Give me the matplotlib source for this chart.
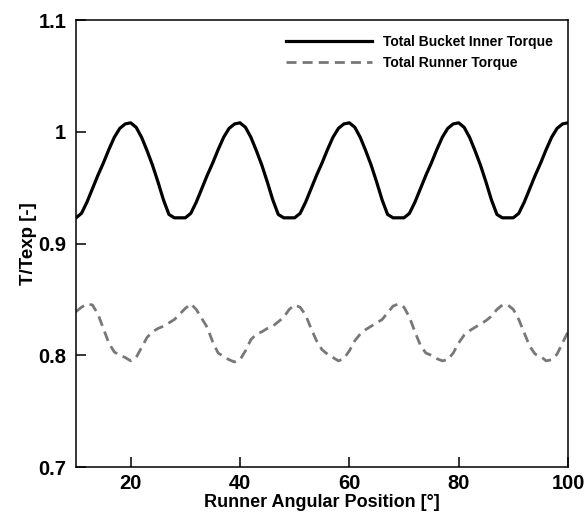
import matplotlib
matplotlib.use('Agg')
from matplotlib import pyplot as plt

# runner angular position [deg]
angle = list(range(10, 101))

# total bucket inner torque, T/Texp
bucket_torque = [
  0.923, 0.927, 0.937, 0.949, 0.961, 0.972, 0.984, 0.995, 1.003, 1.007,
  1.008, 1.004, 0.995, 0.983, 0.970, 0.955, 0.939, 0.926, 0.923, 0.923,
  0.923, 0.927, 0.937, 0.949, 0.961, 0.972, 0.984, 0.995, 1.003, 1.007,
  1.008, 1.004, 0.995, 0.983, 0.970, 0.955, 0.939, 0.926, 0.923, 0.923,
  0.923, 0.927, 0.937, 0.949, 0.961, 0.972, 0.984, 0.995, 1.003, 1.007,
  1.008, 1.004, 0.995, 0.983, 0.970, 0.955, 0.939, 0.926, 0.923, 0.923,
  0.923, 0.927, 0.937, 0.949, 0.961, 0.972, 0.984, 0.995, 1.003, 1.007,
  1.008, 1.004, 0.995, 0.983, 0.970, 0.955, 0.939, 0.926, 0.923, 0.923,
  0.923, 0.927, 0.937, 0.949, 0.961, 0.972, 0.984, 0.995, 1.003, 1.007,
  1.008,
]

# total runner torque, T/Texp
runner_torque = [
  0.839, 0.843, 0.846, 0.845, 0.837, 0.824, 0.811, 0.803, 0.800, 0.798,
  0.795, 0.798, 0.807, 0.816, 0.821, 0.824, 0.826, 0.829, 0.832, 0.837,
  0.842, 0.846, 0.841, 0.833, 0.825, 0.812, 0.802, 0.799, 0.796, 0.794,
  0.796, 0.804, 0.814, 0.819, 0.821, 0.824, 0.826, 0.830, 0.834, 0.841,
  0.845, 0.843, 0.836, 0.824, 0.813, 0.805, 0.801, 0.798, 0.795, 0.797,
  0.804, 0.813, 0.819, 0.823, 0.826, 0.829, 0.832, 0.838, 0.844, 0.846,
  0.843, 0.834, 0.821, 0.809, 0.802, 0.800, 0.797, 0.795, 0.796, 0.802,
  0.811, 0.818, 0.822, 0.825, 0.828, 0.831, 0.835, 0.841, 0.845, 0.845,
  0.841, 0.832, 0.820, 0.808, 0.801, 0.799, 0.795, 0.796, 0.801, 0.811,
  0.821,
]

plt.rcParams['font.family'] = ['Liberation Sans', 'DejaVu Sans']
plt.rcParams['font.weight'] = 'bold'
plt.rcParams['axes.labelweight'] = 'bold'

fig = plt.figure(figsize=(5.87, 5.21), dpi=100)
ax = fig.add_axes([0.1295, 0.1036, 0.8381, 0.858])

ax.plot(angle, bucket_torque, color='black', lw=2.3,
        label='Total Bucket Inner Torque')
ax.plot(angle, runner_torque, color='#787878', lw=2.0, dashes=(3.6, 2.2),
        label='Total Runner Torque')

ax.set_xlim(10, 100)
ax.set_ylim(0.7, 1.1)
ax.set_xticks([20, 40, 60, 80, 100])
ax.set_yticks([0.7, 0.8, 0.9, 1.0, 1.1])
ax.set_yticklabels(['0.7', '0.8', '0.9', '1', '1.1'])
ax.tick_params(direction='in', length=7, width=1.1, labelsize=14.5,
               top=False, right=False)
ax.tick_params(axis='y', pad=7)
ax.tick_params(axis='x', pad=5)
for s in ax.spines.values():
  s.set_linewidth(1.1)

ax.set_xlabel('Runner Angular Position [°]', fontsize=13, labelpad=1)
ax.set_ylabel('T/Texp [-]', fontsize=13.5, labelpad=1)

ax.legend(loc='upper right', frameon=False, fontsize=10, handlelength=6.2,
          handletextpad=0.8, borderaxespad=0.7, labelspacing=0.5)

fig.savefig('out.png', dpi=100)
